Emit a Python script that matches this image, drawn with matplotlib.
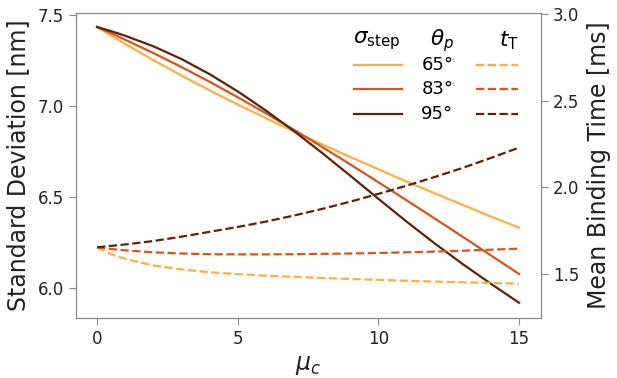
import matplotlib.pyplot as plt

mu_c = [0, 0.5, 1, 2, 3, 4, 5, 6, 7, 8, 9, 10, 11, 12, 13, 14, 15]

# standard deviation [nm]
sd_65 = [7.434, 7.387, 7.341, 7.252, 7.167, 7.086, 7.008, 6.933, 6.860, 6.789, 6.720, 6.652, 6.585, 6.520, 6.456, 6.393, 6.331]
sd_83 = [7.434, 7.400, 7.364, 7.291, 7.214, 7.133, 7.048, 6.960, 6.869, 6.775, 6.679, 6.581, 6.482, 6.382, 6.281, 6.179, 6.077]
sd_95 = [7.434, 7.411, 7.386, 7.328, 7.258, 7.175, 7.080, 6.975, 6.862, 6.742, 6.617, 6.490, 6.365, 6.245, 6.131, 6.023, 5.919]

# mean binding time [ms]
t_65 = [1.655, 1.615, 1.588, 1.550, 1.527, 1.511, 1.500, 1.491, 1.484, 1.478, 1.472, 1.467, 1.462, 1.457, 1.453, 1.449, 1.445]
t_83 = [1.655, 1.645, 1.637, 1.626, 1.619, 1.615, 1.614, 1.614, 1.615, 1.617, 1.619, 1.622, 1.626, 1.630, 1.635, 1.641, 1.647]
t_95 = [1.655, 1.663, 1.671, 1.691, 1.716, 1.744, 1.772, 1.803, 1.838, 1.876, 1.918, 1.963, 2.010, 2.060, 2.113, 2.170, 2.230]

angles = ['65°', '83°', '95°']
colors = ['#fbb040', '#d4561a', '#5e2307']

spine_col = '#888888'

fig = plt.figure(figsize=(6.17, 3.78), dpi=100)
ax = fig.add_axes([0.1232, 0.1587, 0.7536, 0.8069])
ax2 = ax.twinx()

for sd, c in zip([sd_65, sd_83, sd_95], colors):
    ax.plot(mu_c, sd, color=c, lw=1.6)
for t, c in zip([t_65, t_83, t_95], colors):
    ax2.plot(mu_c, t, color=c, lw=1.6, ls='--')

ax.set_xlim(-0.75, 15.78)
ax.set_ylim(5.835, 7.511)
ax2.set_ylim(1.247, 3.006)
ax.set_xticks([0, 5, 10, 15])
ax.set_yticks([6.0, 6.5, 7.0, 7.5])
ax2.set_yticks([1.5, 2.0, 2.5, 3.0])

for a in (ax, ax2):
    for s in a.spines.values():
        s.set_color(spine_col)
    a.tick_params(colors=spine_col, labelcolor='#222222', labelsize=12, length=5)

ax.set_xlabel(r'$\mu_c$', fontsize=17, color='#222222')
ax.set_ylabel('Standard Deviation [nm]', fontsize=17, color='#222222', labelpad=6)
ax2.set_ylabel('Mean Binding Time [ms]', fontsize=17, color='#222222', labelpad=6)

# table-style legend
tr = ax.transAxes
ax.text(0.647, 0.908, r'$\sigma_{\rm step}$', transform=tr, fontsize=15.5, ha='center', va='center')
ax.text(0.787, 0.908, r'$\theta_p$', transform=tr, fontsize=15.5, ha='center', va='center')
ax.text(0.931, 0.908, r'$t_{\rm T}$', transform=tr, fontsize=15.5, ha='center', va='center')
rows = [0.83, 0.751, 0.669]
for yy, lab, c in zip(rows, angles, colors):
    ax.plot([0.598, 0.701], [yy, yy], transform=tr, color=c, lw=1.6)
    ax.text(0.777, yy, lab, transform=tr, fontsize=13, ha='center', va='center')
    ax.plot([0.86, 0.951], [yy, yy], transform=tr, color=c, lw=1.6, ls='--')

fig.savefig('out.png', dpi=100)
